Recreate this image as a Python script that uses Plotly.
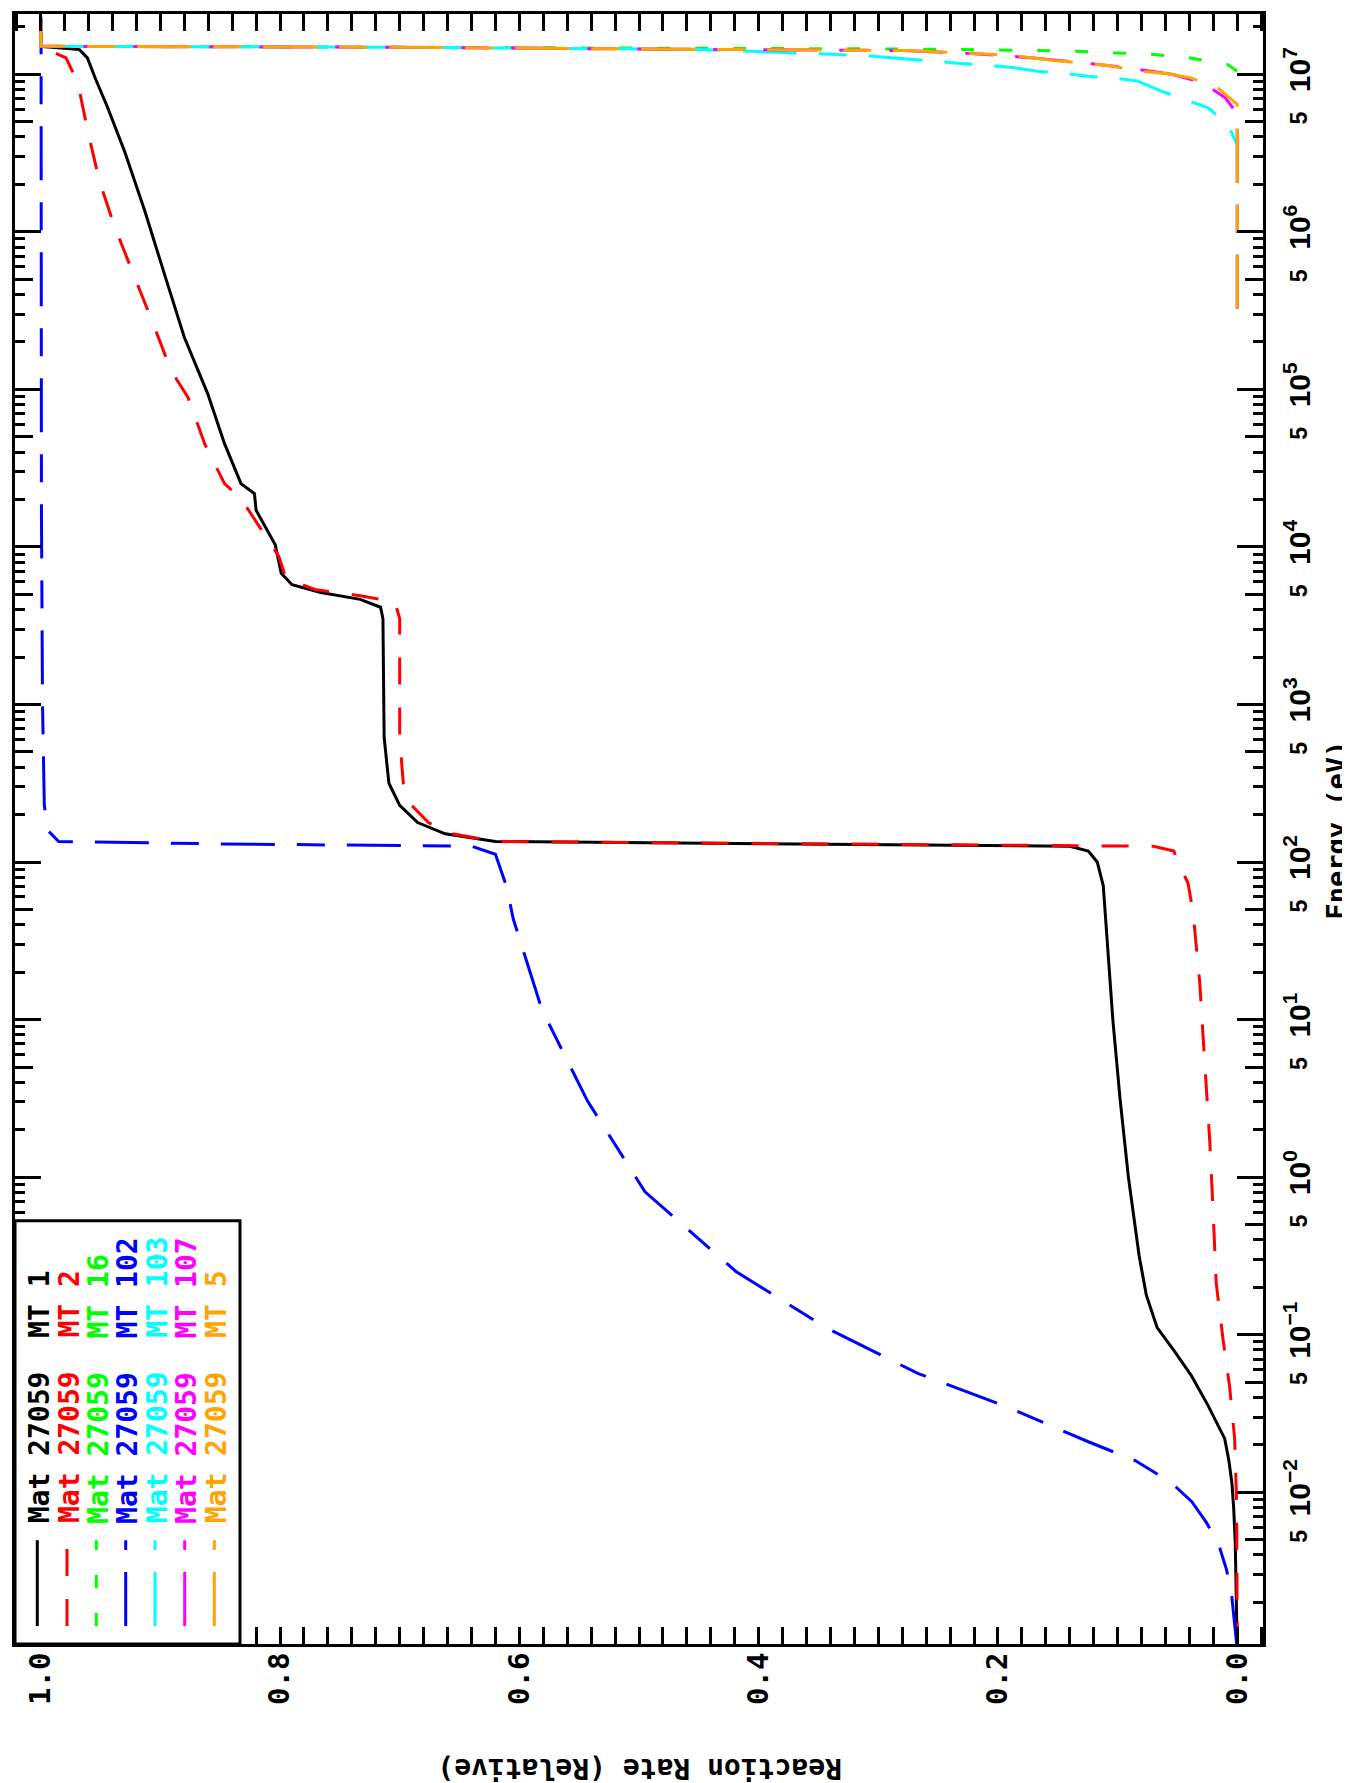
import plotly.graph_objects as go

# ---------------- data ----------------
mt1_e = [1.0e-3, 3.16e-3, 4.79e-3, 7.94e-3, 1.148e-2, 1.585e-2, 2.19e-2, 3.56e-2, 5.5e-2, 7.94e-2,
         0.111, 0.178, 0.316, 1.0, 3.16, 10.0, 31.6, 70.8, 100.0, 117.5, 125.9, 130.3, 134.9,
         151.0, 178.0, 229.0, 316.0, 617.0, 1995.0, 3508.0, 4140.0, 4645.0, 5129.0, 5754.0,
         6808.0, 10300.0, 17060.0, 21780.0, 25180.0, 45190.0, 93540.0, 2.138e5, 5.383e5,
         1.355e6, 3.25e6, 6.12e6, 9.25e6, 1.268e7, 1.432e7, 1.472e7, 1.503e7, 2.29e7]
mt1_r = [0.0, 0.0008, 0.0017, 0.003, 0.0045, 0.007, 0.0105, 0.0245, 0.0384, 0.053,
         0.067, 0.076, 0.082, 0.091, 0.098, 0.104, 0.109, 0.112, 0.117, 0.1245, 0.14, 0.40, 0.62,
         0.662, 0.685, 0.700, 0.709, 0.713, 0.714, 0.714, 0.716, 0.733, 0.766, 0.790,
         0.799, 0.804, 0.820, 0.8214, 0.8326, 0.8464, 0.8604, 0.880, 0.8966,
         0.913, 0.930, 0.944, 0.954, 0.961, 0.9676, 0.985, 1.0, 1.0]

mt2_e = [1.0e-3, 8.3e-3, 2.19e-2, 4.68e-2, 9.46e-2, 0.213, 0.631, 1.70, 5.48, 17.3, 48.4, 73.5,
         100.0, 117.5, 125.9, 130.3, 134.9, 151.4, 177.8, 229.0, 316.0, 617.0, 3508.0, 4467.0,
         4898.0, 5370.0, 6310.0, 8710.0, 20230.0, 25180.0, 45190.0, 89130.0, 1.315e5, 2.6e5,
         5.129e5, 1.064e6, 2.099e6, 4.355e6, 8.81e6, 1.268e7, 1.469e7, 1.503e7, 2.29e7]
mt2_r = [0.0, 0.0005, 0.0022, 0.0064, 0.012, 0.0176, 0.0203, 0.023, 0.0273, 0.0314, 0.037, 0.0412,
         0.0496, 0.053, 0.07, 0.35, 0.62, 0.657, 0.676, 0.690, 0.697, 0.700, 0.700, 0.704,
         0.733, 0.771, 0.795, 0.801, 0.8326, 0.8464, 0.863, 0.877, 0.891, 0.906,
         0.9217, 0.938, 0.951, 0.9607, 0.969, 0.9788, 0.998, 1.0, 1.0]

mt16_e = [1.045e7, 1.151e7, 1.268e7, 1.334e7, 1.365e7, 1.40e7, 1.413e7, 1.419e7, 1.429e7,
          1.445e7, 1.483e7, 1.503e7, 2.29e7]
mt16_r = [0.0, 0.008, 0.039, 0.070, 0.1025, 0.135, 0.166, 0.199, 0.229,
          0.275, 0.71, 1.0, 1.0]

mt102_e = [1.0e-3, 1.17e-3, 2.34e-3, 3.27e-3, 4.79e-3, 6.46e-3, 8.71e-3, 1.148e-2, 1.585e-2,
           2.1e-2, 3.45e-2, 5.68e-2, 0.110, 0.252, 0.807, 3.04, 11.5, 43.3, 71.1, 112.0,
           125.9, 130.3, 134.9, 158.5, 229.0, 1000.0, 17000.0, 1.479e7, 1.503e7, 2.29e7]
mt102_r = [0.0, 0.001, 0.005, 0.0092, 0.016, 0.026, 0.038, 0.055, 0.085,
           0.125, 0.191, 0.267, 0.343, 0.419, 0.495, 0.543, 0.581, 0.605, 0.611, 0.620,
           0.640, 0.850, 0.985, 0.994, 0.997, 0.9985, 0.9994, 0.9997, 1.0, 1.0]

mt103_e = [3.24e5, 3.55e6, 4.8e6, 6.12e6, 6.92e6, 7.8e6, 9.04e6, 9.48e6, 9.7e6, 1.019e7,
           1.045e7, 1.107e7, 1.17e7, 1.208e7, 1.25e7, 1.30e7, 1.358e7, 1.432e7, 1.445e7,
           1.483e7, 1.503e7, 2.29e7]
mt103_r = [0.0, 0.0, 0.0078, 0.0245, 0.044, 0.0636, 0.083, 0.105, 0.125, 0.147,
           0.167, 0.189, 0.231, 0.252, 0.275, 0.305, 0.36, 0.45, 0.50,
           0.71, 1.0, 1.0]

mt107_e = [3.24e5, 5.62e6, 7.08e6, 8.91e6, 1.0e7, 1.107e7, 1.202e7, 1.268e7, 1.349e7, 1.413e7,
           1.445e7, 1.483e7, 1.503e7, 2.29e7]
mt107_r = [0.0, 0.0, 0.01, 0.03, 0.055, 0.095, 0.14, 0.17, 0.22, 0.28,
           0.50, 0.71, 1.0, 1.0]

mt5_e = [3.24e5, 6.43e6, 8.18e6, 9.48e6, 1.005e7, 1.045e7, 1.135e7, 1.222e7, 1.30e7, 1.334e7,
         1.384e7, 1.413e7, 1.445e7, 1.483e7, 1.503e7, 2.29e7]
mt5_r = [0.0, 0.0, 0.0161, 0.039, 0.058, 0.080, 0.108, 0.153, 0.183, 0.203,
         0.248, 0.275, 0.50, 0.71, 1.0, 1.0]

mat_id = "27059"
mt_labels = ["1", "2", "16", "102", "103", "107", "5"]
colors = ["#000000", "#ff0000", "#00ff00", "#0000ff", "#00ffff", "#ff00ff", "#ffa500"]
LD = "54px,22px,28px,22px"
dashes = ["solid", "27px,23px", "13px,25px", LD, LD, LD, LD]

x_ticks = [0.0, 0.2, 0.4, 0.6, 0.8, 1.0]
x_ticktext = ["0.0", "0.2", "0.4", "0.6", "0.8", "1.0"]
e_decades = list(range(-2, 8))
e_major = [10.0 ** n for n in e_decades]
e_major_text = ["10<sup>%s</sup>" % (str(n).replace("-", "\u2212")) for n in e_decades]
e_five = [5 * 10.0 ** n for n in range(-3, 7)]
e_minor = [k * 10.0 ** n for n in range(-3, 8) for k in (2, 3, 4, 6, 7, 8, 9)]

series = [(mt1_e, mt1_r), (mt2_e, mt2_r), (mt16_e, mt16_r), (mt102_e, mt102_r),
          (mt103_e, mt103_r), (mt107_e, mt107_r), (mt5_e, mt5_r)]

# ---------------- geometry ----------------
W, H = 1350, 1783
ML, MR, MT, MB = 7, 95, 3, 147
PW = W - ML - MR
PH = H - MT - MB


def px(x):
    return (x - ML) / PW


def py(y):
    return 1 - (y - MT) / PH


fig = go.Figure()
for (e, r), c, d, m in zip(series, colors, dashes, mt_labels):
    fig.add_trace(go.Scatter(x=r, y=e, mode="lines", line=dict(color=c, width=3, dash=d),
                             name="MT " + m, showlegend=False, hoverinfo="skip"))
# carrier for the secondary (5 x 10^n) energy axis
fig.add_trace(go.Scatter(x=[0.5], y=[1.0], yaxis="y2", mode="markers",
                         marker=dict(opacity=0), showlegend=False, hoverinfo="skip"))

MONO = "DejaVu Sans Mono"
mono_bold = dict(family=MONO, color="black", weight="bold")
sans_bold = dict(family="Liberation Sans", color="black", weight="bold")
yr = [-2.963, 7.382]

fig.update_layout(
    width=W, height=H,
    margin=dict(l=ML, r=MR, t=MT, b=MB, pad=0),
    paper_bgcolor="white", plot_bgcolor="white",
    showlegend=False,
    xaxis=dict(range=[1.0215, -0.0215], tickmode="array", tickvals=x_ticks, ticktext=x_ticktext,
               ticks="inside", ticklen=17, tickwidth=3, tickcolor="black",
               showline=True, linewidth=3, linecolor="black", mirror="allticks",
               showgrid=False, zeroline=False, tickangle=-90,
               tickfont=dict(size=29, **mono_bold), ticklabelstandoff=-6,
               minor=dict(dtick=0.02, tick0=0, ticks="inside", ticklen=10, tickwidth=3,
                          tickcolor="black", showgrid=False)),
    yaxis=dict(type="log", range=yr, side="right", tickmode="array", tickvals=e_major,
               ticktext=e_major_text, ticks="inside", ticklen=26, tickwidth=3, tickcolor="black",
               showline=True, linewidth=3, linecolor="black", mirror="allticks",
               showgrid=False, zeroline=False, tickangle=-90,
               tickfont=dict(size=30, **sans_bold), ticklabelstandoff=8,
               minor=dict(tickmode="array", tickvals=e_minor, ticks="inside", ticklen=10,
                          tickwidth=3, tickcolor="black", showgrid=False)),
    yaxis2=dict(type="log", range=yr, side="right", overlaying="y", tickmode="array",
                tickvals=e_five, ticktext=["5"] * len(e_five), ticks="inside", ticklen=18,
                tickwidth=3, tickcolor="black", showline=True, linewidth=3, linecolor="black",
                mirror="allticks", showgrid=False, zeroline=False, tickangle=-90,
                tickfont=dict(size=23, **sans_bold), ticklabelstandoff=13),
)

shapes = []
annotations = []
# legend box
shapes.append(dict(type="rect", xref="paper", yref="paper", x0=px(7), x1=px(232),
                   y0=py(1636), y1=py(1212), line=dict(color="black", width=3),
                   fillcolor="white", layer="above"))
col_x = [29.3, 59.0, 88.3, 117.7, 147.0, 176.7, 206.3]
LEG_FS = 28
adv = 0.602 * LEG_FS
for cx, c, d, m in zip(col_x, colors, dashes, mt_labels):
    shapes.append(dict(type="line", xref="paper", yref="paper", x0=px(cx), x1=px(cx),
                       y0=py(1618), y1=py(1532), line=dict(color=c, width=3, dash=d),
                       layer="above"))
    txt = "Mat\u00a0" + mat_id + "\u00a0\u00a0MT\u00a0" + m
    n = len(txt)
    annotations.append(dict(text=txt, xref="paper", yref="paper", x=px(cx + 2),
                            y=py(1515 - n * adv / 2), textangle=-90, showarrow=False,
                            xanchor="center", yanchor="middle",
                            font=dict(size=LEG_FS, family=MONO, color=c, weight="bold")))

annotations.append(dict(text="Energy (eV)", xref="paper", yref="paper", x=px(1328), y=py(820),
                        textangle=-90, showarrow=False, xanchor="center", yanchor="middle",
                        font=dict(size=27, **mono_bold)))
annotations.append(dict(text="Reaction Rate (Relative)", xref="paper", yref="paper", x=px(632),
                        y=py(1760), textangle=180, showarrow=False, xanchor="center",
                        yanchor="middle", font=dict(size=28, **mono_bold)))

fig.update_layout(shapes=shapes, annotations=annotations)
fig.write_html("out.html")
